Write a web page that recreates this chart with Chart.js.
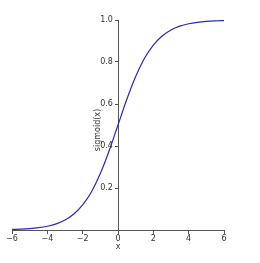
<!DOCTYPE html>
<html>
<head>
<meta charset="utf-8">
<script src="https://cdn.jsdelivr.net/npm/chart.js@4/dist/chart.umd.min.js"></script>
<style>
  html, body { margin: 0; padding: 0; background: #fff; }
  #wrap { width: 260px; height: 263px; }
</style>
</head>
<body>
<div id="wrap"><canvas id="grafico"></canvas></div>
<script>
// valores
const xs = [-6, -5.5, -5, -4.5, -4, -3.5, -3, -2.5, -2, -1.5, -1, -0.5, 0,
            0.5, 1, 1.5, 2, 2.5, 3, 3.5, 4, 4.5, 5, 5.5, 6];
const ys = [0.0025, 0.0041, 0.0067, 0.0110, 0.0180, 0.0293, 0.0474, 0.0759, 0.1192,
            0.1824, 0.2689, 0.3775, 0.5, 0.6225, 0.7311, 0.8176, 0.8808, 0.9241,
            0.9526, 0.9707, 0.9820, 0.9890, 0.9933, 0.9959, 0.9975];
const xTicks = [-6, -4, -2, 0, 2, 4, 6];
const yTicks = [0.2, 0.4, 0.6, 0.8, 1.0];

const texto = '#333333';
const fuente = { family: 'DejaVu Sans', size: 8 };

// titulo del eje y, girado como en la figura
const tituloY = {
    id: 'tituloY',
    afterDraw(chart) {
        const ctx = chart.ctx;
        ctx.save();
        ctx.translate(98, 130);
        ctx.rotate(-Math.PI / 2);
        ctx.fillStyle = texto;
        ctx.font = '8px "DejaVu Sans"';
        ctx.textAlign = 'center';
        ctx.textBaseline = 'middle';
        ctx.fillText('sigmoid(x)', 0, 0);
        ctx.restore();
    }
};

new Chart(document.getElementById('grafico'), {
    type: 'line',
    data: {
        datasets: [{
            data: xs.map((x, i) => ({ x: x, y: ys[i] })),
            borderColor: '#2a2ab0',
            borderWidth: 1.2,
            pointRadius: 0,
            cubicInterpolationMode: 'monotone',
            fill: false
        }]
    },
    options: {
        responsive: true,
        maintainAspectRatio: false,
        animation: false,
        layout: { padding: { left: 12, right: 36, top: 20, bottom: 33 } },
        plugins: { legend: { display: false }, tooltip: { enabled: false } },
        scales: {
            x: {
                type: 'linear',
                position: { y: 0 },
                min: -6,
                max: 6,
                afterBuildTicks: s => { s.ticks = xTicks.map(v => ({ value: v })); },
                ticks: {
                    color: texto,
                    font: fuente,
                    padding: 1,
                    maxRotation: 0,
                    callback: v => v < 0 ? '\u2212' + Math.abs(v) : String(v)
                },
                grid: { drawOnChartArea: false, drawTicks: true, tickLength: 3, color: '#555' },
                border: { display: true, color: '#555', width: 1 },
                title: { display: true, text: 'x', color: texto, font: fuente, padding: { top: -2, bottom: 0 } }
            },
            y: {
                type: 'linear',
                position: { x: 0 },
                min: 0,
                max: 1,
                afterBuildTicks: s => { s.ticks = yTicks.map(v => ({ value: v })); },
                ticks: {
                    color: texto,
                    font: fuente,
                    // con posicion en x=0 las etiquetas quedan pegadas al eje
                    callback: v => v.toFixed(1) + '  '
                },
                grid: { drawOnChartArea: false, drawTicks: true, tickLength: 3, color: '#555' },
                border: { display: true, color: '#555', width: 1 }
            }
        }
    },
    plugins: [tituloY]
});
</script>
</body>
</html>
